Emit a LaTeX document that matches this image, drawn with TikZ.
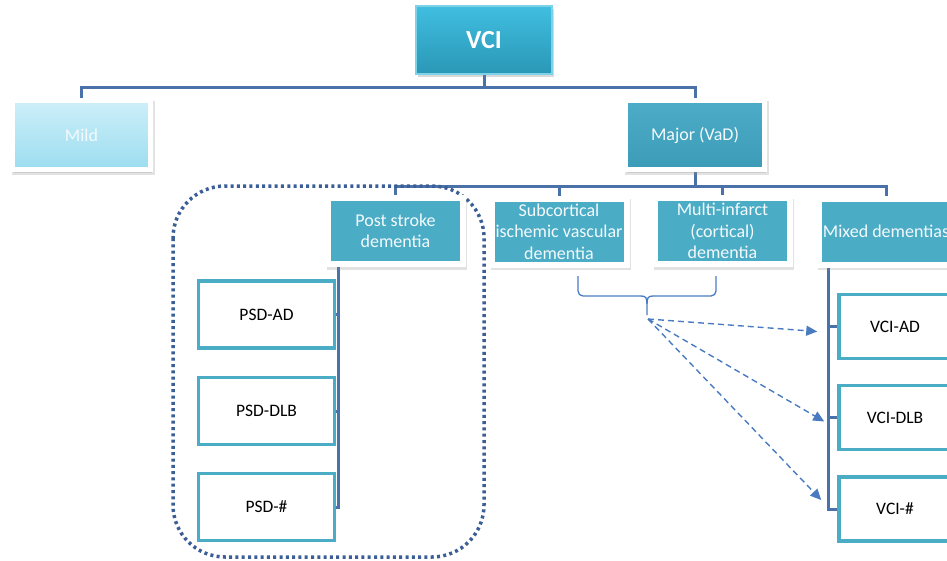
\documentclass[tikz,border=0pt]{standalone}
\usepackage{fontspec}
\setmainfont{Carlito}
\usetikzlibrary{shadows,arrows.meta,calc,backgrounds}
\definecolor{cline}{HTML}{4A72A8}
\definecolor{tealbox}{HTML}{4BACC6}
\definecolor{vcitop}{HTML}{40BEE0}
\definecolor{vcibot}{HTML}{2A97B6}
\definecolor{vciedge}{HTML}{7ED2E8}
\definecolor{mildtop}{HTML}{CDEFF9}
\definecolor{mildbot}{HTML}{9CDDF0}
\definecolor{majtop}{HTML}{4DADC8}
\definecolor{majbot}{HTML}{3C9CB8}
\definecolor{dotblue}{HTML}{3B5E96}
\definecolor{arrblue}{HTML}{4A7BC0}
\definecolor{txtwhite}{HTML}{F4FAFC}
\begin{document}
\begin{tikzpicture}[x=1pt,y=-1pt,
  conn/.style={draw=cline,line width=3pt},
  myshadow/.style={drop shadow={shadow xshift=1.5pt,shadow yshift=-3pt,fill=black!45,draw=black!45,line width=5pt,opacity=.25}},
  boxtext/.style={text=txtwhite,align=center,font=\fontsize{18}{21.5}\selectfont,inner sep=0pt},
  topbox/.style={minimum width=136pt,minimum height=68pt,top color=vcitop,bottom color=vcibot,draw=vciedge,line width=1.5pt,
    text=white,font=\fontsize{26}{30}\selectfont\bfseries,drop shadow={shadow xshift=1.5pt,shadow yshift=-2.5pt,opacity=.3,fill=black!50}},
  framebox/.style={boxtext,draw=white,line width=5pt,myshadow},
  mildbox/.style={framebox,minimum width=138pt,minimum height=69pt,top color=mildtop,bottom color=mildbot},
  majbox/.style={framebox,minimum width=139pt,minimum height=69pt,top color=majtop,bottom color=majbot},
  midbox/.style={boxtext,fill=tealbox,draw=white,line width=6pt,minimum width=135pt,minimum height=66pt,myshadow},
  psdbox/.style={draw=tealbox,line width=3.5pt,fill=white,minimum width=136pt,minimum height=67pt,
    font=\fontsize{17.5}{20}\selectfont,text=black},
  vbox/.style={psdbox,minimum width=112pt,minimum height=64pt},
  brc/.style={draw=arrblue,line width=1.3pt},
  darr/.style={draw=arrblue,line width=1.4pt,dash pattern=on 6pt off 4pt,-{Triangle[length=11pt,width=10pt]}},
  dotbox/.style={draw=dotblue,line width=3.5pt,dash pattern=on 3pt off 3.3pt,rounded corners=52pt}
]
\path[use as bounding box] (0,0) rectangle (947,560);
\clip (0,0) rectangle (947,560);

% dotted group
\draw[dotbox] (173,186) rectangle (484,557);

% nodes
\node[topbox] (vci) at (484,40) {VCI};
\node[mildbox] (mild) at (81.5,135) {Mild};
\node[majbox] (major) at (695,135) {Major (VaD)};
\node[midbox] (post) at (395.5,231) {Post stroke\\dementia};
\node[midbox] (sub) at (559,231.5) {Subcortical\\ischemic vascular\\dementia};
\node[midbox] (multi) at (722.5,231) {Multi-infarct\\(cortical)\\dementia};
\node[midbox] (mixed) at (886,231.5) {Mixed dementias};
\node[psdbox] (pad) at (266.5,314.5) {PSD-AD};
\node[psdbox] (pdlb) at (266.5,411) {PSD-DLB};
\node[psdbox] (phash) at (266.5,507) {PSD-\#};
\node[vbox] (vad) at (895,326.5) {VCI-AD};
\node[vbox] (vdlb) at (895,417.5) {VCI-DLB};
\node[vbox] (vhash) at (895,509) {VCI-\#};

% connectors
\begin{scope}[on background layer]
  \coordinate (topbar) at ($(vci.south)+(0,13)$);
  \draw[conn] (vci.south) -- (topbar);
  \draw[conn] (mild.north) |- (topbar) -| (major.north);
  \coordinate (bar) at ($(major.south)+(0,14.5)$);
  \draw[conn] (major.south) -- (bar);
  \draw[conn] (post.north) |- (bar) -| (mixed.north);
  \draw[conn] (sub.north) -- (sub.north |- bar);
  \draw[conn] (multi.north) -- (multi.north |- bar);
  \coordinate (pv) at ($(post.south west)+(13,0)$);
  \draw[conn] (pv) |- (phash.east);
  \draw[conn] (pad.east) -- (pad.east -| pv);
  \draw[conn] (pdlb.east) -- (pdlb.east -| pv);
  \coordinate (mv) at ($(mixed.south west)+(13,0)$);
  \draw[conn] (mv) |- (vhash.west);
  \draw[conn] (vad.west) -- (vad.west -| mv);
  \draw[conn] (vdlb.west) -- (vdlb.west -| mv);
\end{scope}

% brace
\draw[brc,rounded corners=5pt] (641,296) -- (578,296) -- (578,276);
\draw[brc,rounded corners=5pt] (653,296) -- (716,296) -- (716,276);
\draw[brc] (641,296) .. controls (646,296) and (647,298) .. (647,304) -- (647,315);
\draw[brc] (653,296) .. controls (648,296) and (647,298) .. (647,304);
\coordinate (bt) at (648,319);

% dashed arrows
\coordinate (a1) at ($(vad.west)+(-20,5)$);
\coordinate (a2) at ($(vdlb.west)+(-13,4)$);
\coordinate (a3) at ($(vhash.west)+(-16,-9)$);
\draw[darr] (bt) -- (a1);
\draw[darr] (bt) -- (a2);
\draw[darr] (bt) -- (a3);
\end{tikzpicture}
\end{document}
